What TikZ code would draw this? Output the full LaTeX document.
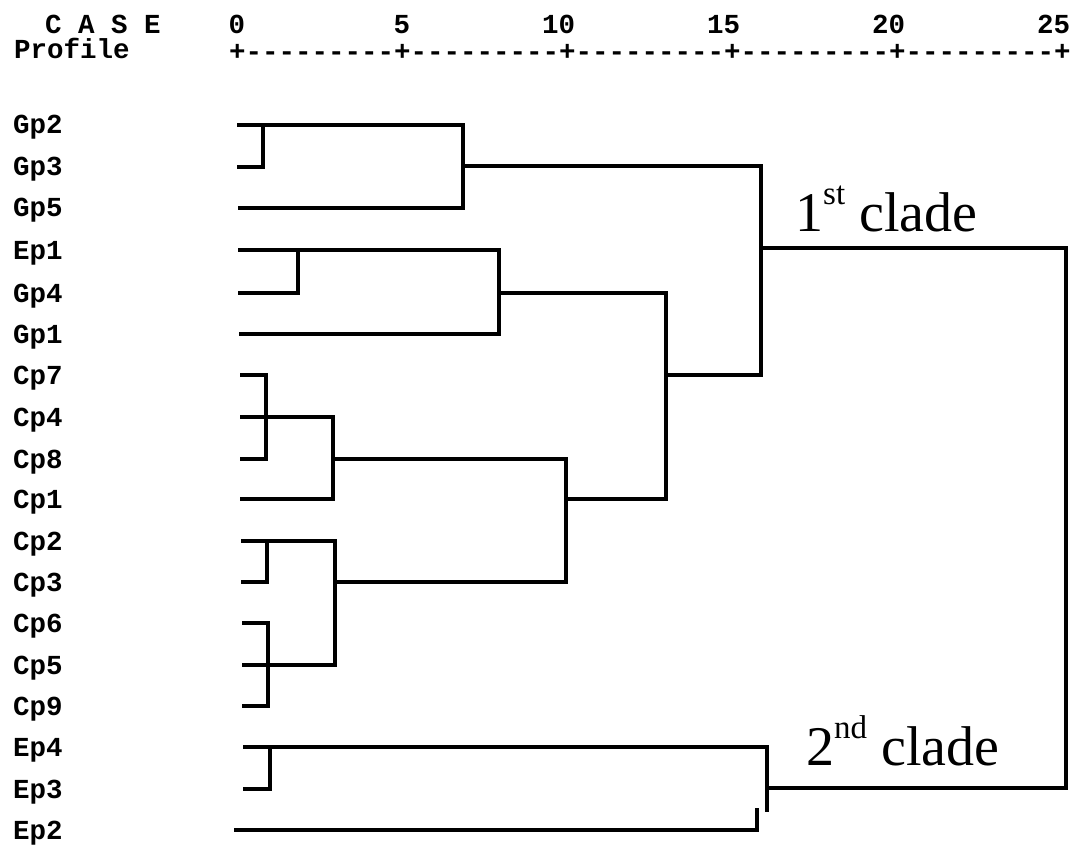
\documentclass[tikz,border=0pt]{standalone}
\usepackage{fontspec}
\setmainfont{Liberation Serif}
\setmonofont{Liberation Mono}
\begin{document}
\begin{tikzpicture}[x=1pt,y=-1pt,
  lbl/.style={font=\ttfamily\bfseries\fontsize{27.5}{30}\selectfont, anchor=base west, inner sep=0pt},
  num/.style={font=\ttfamily\bfseries\fontsize{27.5}{30}\selectfont, anchor=base east, inner sep=0pt},
  clade/.style={font=\fontsize{56}{60}\selectfont, anchor=base west, inner sep=0pt},
  br/.style={line width=3.2pt, line cap=rect, line join=miter}]
\useasboundingbox (0,0) rectangle (1074,845);

% header and scale
\node[lbl] (case) at (45,34) {C A S E};
\node[lbl] (prof) at (14,59) {Profile};
\node[lbl] (axis) at (229,61) {+---------+---------+---------+---------+---------+};
\foreach \v/\px in {0/237,5/402,10/567,15/732,20/897,25/1062}
  \node[num] (n\v) at (\px+8.25,34) {\v};

% case labels and leaf starts
\foreach \n/\y/\x in {Gp2/125/239,Gp3/167/239,Gp5/208/240,Ep1/250/240,Gp4/293/240,
  Gp1/334/241,Cp7/375/242,Cp4/417/242,Cp8/459/242,Cp1/499/242,Cp2/541/243,
  Cp3/582/243,Cp6/623/244,Cp5/665/244,Cp9/706/244,Ep4/747/245,Ep3/789/245,Ep2/830/236}{
  \node[lbl] (\n) at (13,\y+9) {\n};
  \coordinate (\n-s) at (\x,\y);
}

% junctions
\coordinate (gA) at (263,125);
\coordinate (gB) at (463,166);
\coordinate (gC) at (298,250);
\coordinate (gD) at (499,293);
\coordinate (gE) at (266,417);
\coordinate (gF) at (333,459);
\coordinate (gG) at (267,541);
\coordinate (gH) at (268,665);
\coordinate (gI) at (335,582);
\coordinate (gJ) at (566,499);
\coordinate (gK) at (666,375);
\coordinate (gL) at (761,248);
\coordinate (gM) at (270,747);
\coordinate (gN) at (767,788);
\coordinate (gP) at (757,810);
\coordinate (gR) at (1066,0);

% Gp group
\draw[br] (Gp2-s) -- (gA);
\draw[br] (Gp3-s) -| (gA);
\draw[br] (gA) -- (gA -| gB) -- (gB |- Gp5-s) -- (Gp5-s);
\draw[br] (Ep1-s) -- (gC);
\draw[br] (Gp4-s) -| (gC);
\draw[br] (gC) -- (gC -| gD) -- (gD |- Gp1-s) -- (Gp1-s);

% Cp group
\draw[br] (Cp7-s) -| (gE |- Cp8-s) -- (Cp8-s);
\draw[br] (Cp4-s) -- (gE);
\draw[br] (gE) -- (gE -| gF) -- (gF |- Cp1-s) -- (Cp1-s);
\draw[br] (Cp2-s) -- (gG);
\draw[br] (Cp3-s) -| (gG);
\draw[br] (Cp6-s) -| (gH |- Cp9-s) -- (Cp9-s);
\draw[br] (Cp5-s) -- (gH);
\draw[br] (gG) -- (gG -| gI) -- (gI |- gH) -- (gH);
\draw[br] (gF) -- (gF -| gJ) -- (gJ |- gI) -- (gI);

% first clade
\draw[br] (gD) -- (gD -| gK) -- (gK |- gJ) -- (gJ);
\draw[br] (gB) -- (gB -| gL) -- (gL |- gK) -- (gK);

% Ep group
\draw[br] (Ep4-s) -- (gM);
\draw[br] (Ep3-s) -| (gM);
\draw[br] (gM) -- (gM -| gN) -- (gN |- gP);
\draw[br] (Ep2-s) -| (gP);

% root
\draw[br] (gL) -- (gL -| gR) -- (gR |- gN) -- (gN);

% clade labels
\node[clade] (c1) at (795,232) {1\raisebox{27pt}{\fontsize{33}{33}\selectfont st} clade};
\node[clade] (c2) at (806,765) {2\raisebox{27pt}{\fontsize{33}{33}\selectfont nd} clade};
\end{tikzpicture}
\end{document}
